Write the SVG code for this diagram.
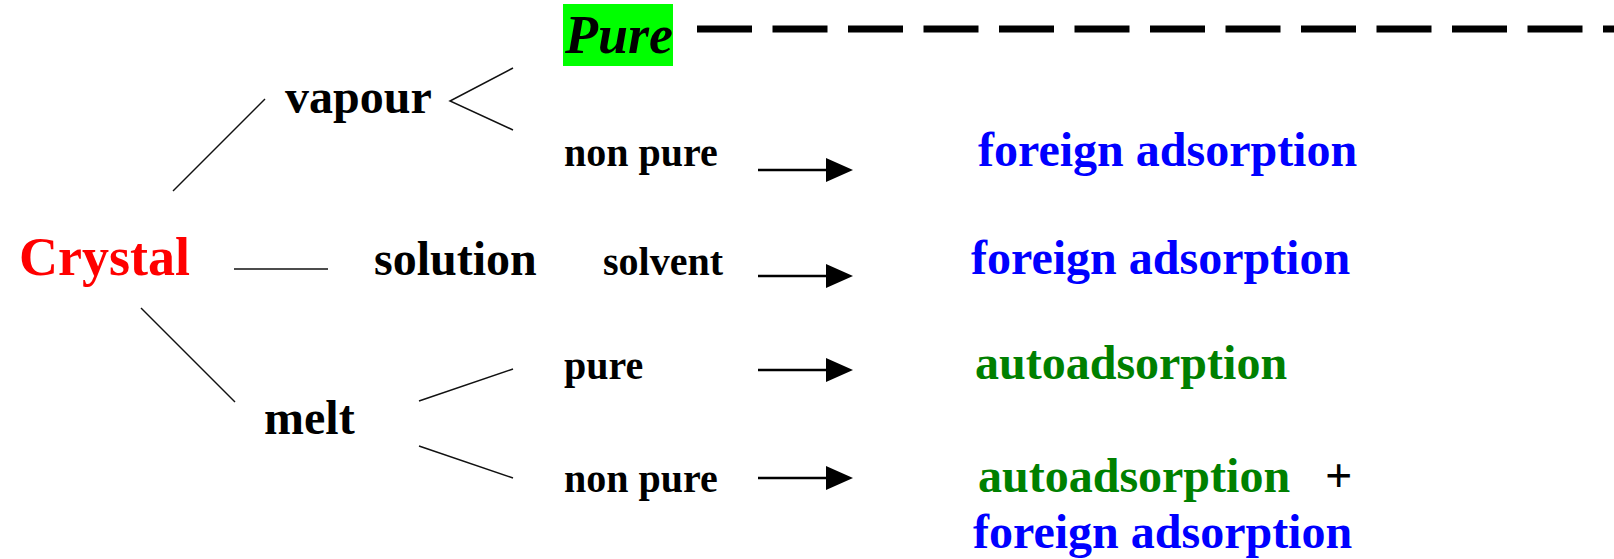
<svg xmlns="http://www.w3.org/2000/svg" width="1614" height="559" viewBox="0 0 1614 559">
  <defs>
    <style>
      text { font-family: "Liberation Serif", "Times New Roman", serif; font-weight: bold; }
      .big { font-size: 48px; fill: #000; }
      .small { font-size: 40px; fill: #000; }
      .red { font-size: 54px; fill: #ff0000; }
      .blue { font-size: 48px; fill: #0000ff; }
      .green { font-size: 48px; fill: #008000; }
      .link { stroke: #111; stroke-width: 1.5; fill: none; }
      .arrow { stroke: #000; stroke-width: 2.5; fill: none; marker-end: url(#head); }
    </style>
    <marker id="head" viewBox="0 0 27 24" refX="0" refY="12" markerWidth="27" markerHeight="24" markerUnits="userSpaceOnUse" orient="auto">
      <path d="M0,0 L27,12 L0,24 Z" fill="#000"/>
    </marker>
  </defs>

  <rect width="1614" height="559" fill="#fff"/>

  <!-- tree connectors -->
  <g id="connectors">
    <line class="link" x1="173" y1="191" x2="265" y2="99"/>
    <line class="link" x1="234" y1="269" x2="328" y2="269"/>
    <line class="link" x1="141" y1="308" x2="235" y2="402"/>
    <polyline class="link" points="513,68 450,101 513,130"/>
    <line class="link" x1="419" y1="401" x2="513" y2="369"/>
    <line class="link" x1="419" y1="446" x2="513" y2="478"/>
    <line class="arrow" x1="758" y1="170" x2="826" y2="170"/>
    <line class="arrow" x1="758" y1="276" x2="826" y2="276"/>
    <line class="arrow" x1="758" y1="370" x2="826" y2="370"/>
    <line class="arrow" x1="758" y1="478" x2="826" y2="478"/>
    <line x1="697" y1="29" x2="1614" y2="29" stroke="#000" stroke-width="7" stroke-dasharray="55 20.5"/>
  </g>

  <g id="crystal"><text class="red" x="19" y="275">Crystal</text></g>
  <g id="vapour"><text class="big" x="285" y="113">vapour</text></g>
  <g id="solution"><text class="big" x="374" y="275">solution</text></g>
  <g id="melt"><text class="big" x="264" y="434">melt</text></g>

  <g id="pure-top">
    <rect x="563" y="4" width="110" height="62" fill="#00ff00"/>
    <text x="565" y="53" font-size="54" font-style="italic" fill="#000">Pure</text>
  </g>
  <g id="nonpure-vapour"><text class="small" x="564" y="166">non pure</text></g>
  <g id="solvent"><text class="small" x="603" y="275">solvent</text></g>
  <g id="pure-melt"><text class="small" x="564" y="379">pure</text></g>
  <g id="nonpure-melt"><text class="small" x="564" y="492">non pure</text></g>

  <g id="result-1"><text class="blue" x="978" y="166">foreign adsorption</text></g>
  <g id="result-2"><text class="blue" x="971" y="274">foreign adsorption</text></g>
  <g id="result-3"><text class="green" x="975" y="379">autoadsorption</text></g>
  <g id="result-4">
    <text class="green" x="978" y="492">autoadsorption</text>
    <text x="1325" y="492" font-size="48" font-weight="normal" fill="#000">+</text>
    <text class="blue" x="973" y="548">foreign adsorption</text>
  </g>
</svg>
